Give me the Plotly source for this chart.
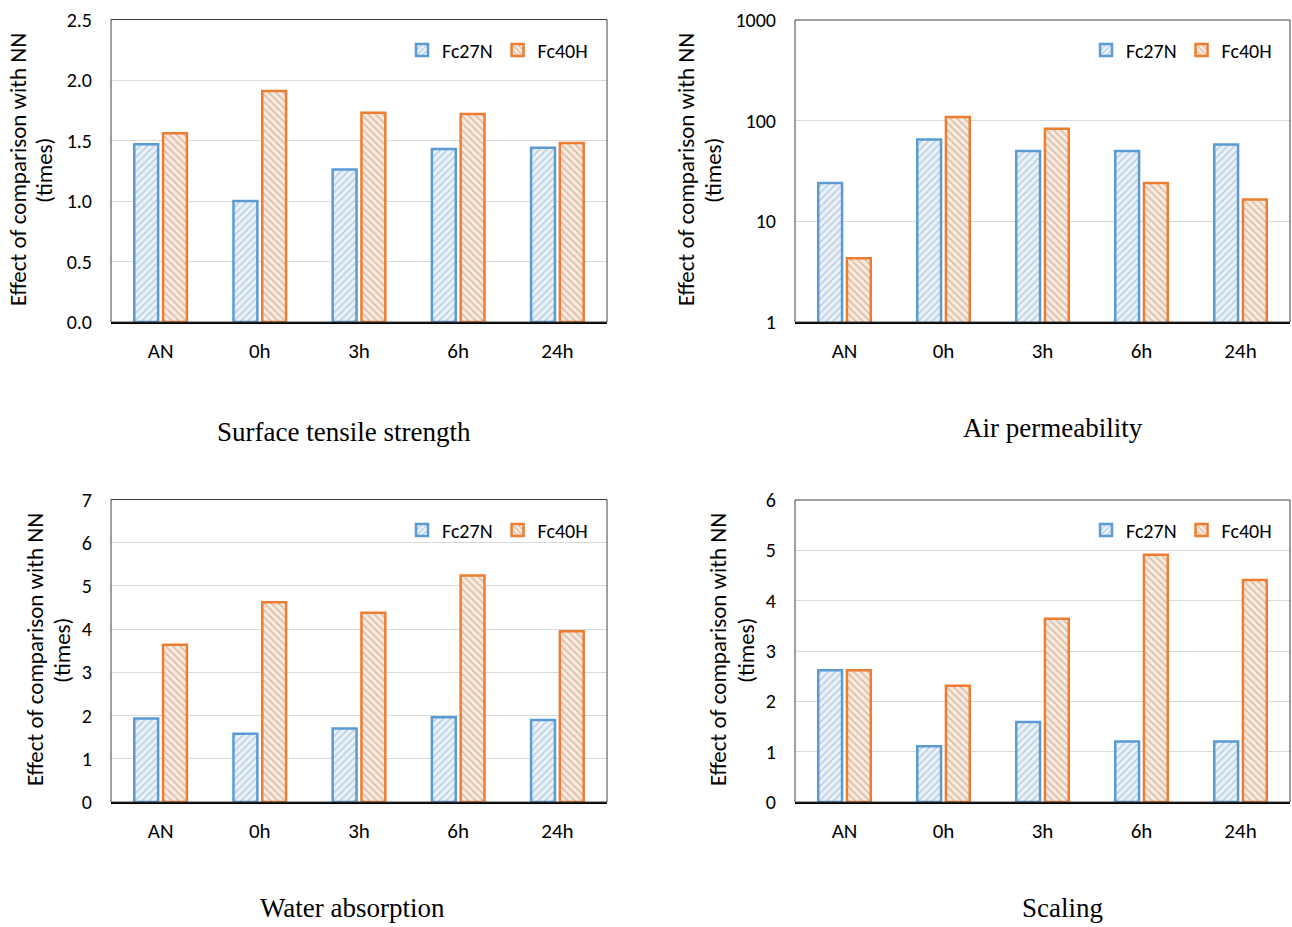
import plotly.graph_objects as go

categories = ["AN", "0h", "3h", "6h", "24h"]
series_names = ["Fc27N", "Fc40H"]

tensile_fc27n = [1.47, 1.00, 1.26, 1.43, 1.44]
tensile_fc40h = [1.56, 1.91, 1.73, 1.72, 1.48]
air_fc27n = [24, 65, 50, 50, 58]
air_fc40h = [4.3, 109, 83, 24, 16.5]
water_fc27n = [1.93, 1.58, 1.70, 1.96, 1.90]
water_fc40h = [3.64, 4.62, 4.38, 5.24, 3.95]
scaling_fc27n = [2.62, 1.11, 1.59, 1.20, 1.20]
scaling_fc40h = [2.62, 2.31, 3.64, 4.91, 4.41]

panel_titles = ["Surface tensile strength", "Air permeability", "Water absorption", "Scaling"]
y_title_lines = ["Effect of comparison with NN", "(times)"]

W, H = 1292, 927
SANS = "Calibri, Carlito, Lato, sans-serif"
SERIF = "Times New Roman, Liberation Serif, serif"


def px(x):
    return x / W


def py(y):
    return 1 - y / H


# pixel boxes: (x0, x1, ytop, ybottom)
boxes = [
    (111, 607, 19.5, 322),
    (795, 1290, 20, 322),
    (111, 607, 499.5, 802),
    (795, 1290, 500, 802),
]
panels = [
    (tensile_fc27n, tensile_fc40h),
    (air_fc27n, air_fc40h),
    (water_fc27n, water_fc40h),
    (scaling_fc27n, scaling_fc40h),
]
styles = [
    dict(line="#5B9BD5", bg="#e9f2fa", fg="#8fa6ba", shape="/"),
    dict(line="#ED7D31", bg="#fbe9dc", fg="#ab8d7b", shape="\\"),
]

fig = go.Figure()
layout = dict(
    width=W, height=H, autosize=False,
    margin=dict(l=0, r=0, t=0, b=0, autoexpand=False),
    paper_bgcolor="white", plot_bgcolor="white",
    barmode="group", bargap=0.42, bargroupgap=0.17,
    font=dict(family=SANS, size=20, color="black"),
    showlegend=True,
)

annotations = []
shapes = []
legend_pos = [(402, 50), (1086, 50), (402, 530), (1086, 530)]
ytitle_pos = [((18, 44), 170), ((686, 713), 170), ((35, 62), 650), ((718, 746), 650)]
panel_title_pos = [(344, 432), (1053, 428), (352, 908), (1062, 908)]

for i, (box, (s1, s2)) in enumerate(zip(boxes, panels)):
    x0, x1, yt, yb = box
    n = "" if i == 0 else str(i + 1)
    xa, ya = "x" + n, "y" + n
    lg = "legend" + n
    for j, (vals, name) in enumerate(zip((s1, s2), series_names)):
        st = styles[j]
        fig.add_trace(go.Bar(
            x=categories, y=vals, name=name, xaxis=xa, yaxis=ya, legend=lg,
            marker=dict(
                color=st["bg"],
                line=dict(color=st["line"], width=2.5),
                pattern=dict(shape=st["shape"], bgcolor=st["bg"], fgcolor=st["fg"],
                             size=5, solidity=0.3),
            ),
            hoverinfo="skip",
        ))
    layout["xaxis" + n] = dict(
        domain=[px(x0), px(x1)], anchor=ya, automargin=False,
        showline=True, linecolor="black", linewidth=2,
        ticks="", showgrid=False, ticklabelstandoff=9,
        tickfont=dict(size=21), fixedrange=True,
    )
    yax = dict(
        domain=[py(yb), py(yt)], anchor=xa, automargin=False,
        showgrid=True, gridcolor="#d9d9d9", gridwidth=1,
        showline=False, ticks="", ticklabelstandoff=18,
        tickfont=dict(size=20), zeroline=False, fixedrange=True,
    )
    if i == 0:
        yax.update(range=[0, 2.5], dtick=0.5, tickformat=".1f")
    elif i == 1:
        yax.update(type="log", range=[0, 3], dtick=1)
    elif i == 2:
        yax.update(range=[0, 7], dtick=1)
    else:
        yax.update(range=[0, 6], dtick=1)
    layout["yaxis" + n] = yax
    lx, ly = legend_pos[i]
    layout[lg] = dict(
        x=px(lx), y=py(ly), xanchor="left", yanchor="middle",
        orientation="h", bgcolor="rgba(0,0,0,0)", font=dict(family=SANS, size=20),
        itemwidth=30, traceorder="normal",
    )
    shapes.append(dict(
        type="rect", xref="paper", yref="paper",
        x0=px(x0), x1=px(x1), y0=py(yb), y1=py(yt),
        line=dict(color="#404040", width=1), layer="above",
    ))
    (tx1, tx2), ty = ytitle_pos[i]
    for tx, line_text in zip((tx1, tx2), y_title_lines):
        annotations.append(dict(
            text=line_text, x=px(tx), y=py(ty), xref="paper", yref="paper",
            textangle=-90, showarrow=False, font=dict(family=SANS, size=23),
            xanchor="center", yanchor="middle",
        ))
    ptx, pty = panel_title_pos[i]
    annotations.append(dict(
        text=panel_titles[i], x=px(ptx), y=py(pty), xref="paper", yref="paper",
        showarrow=False, font=dict(family=SERIF, size=27),
        xanchor="center", yanchor="middle",
    ))

layout["annotations"] = annotations
layout["shapes"] = shapes
fig.update_layout(**layout)
fig.write_html(
    "out.html",
    config={"displayModeBar": False},
    post_script="document.body.style.margin='0';document.body.style.overflow='hidden';",
)
